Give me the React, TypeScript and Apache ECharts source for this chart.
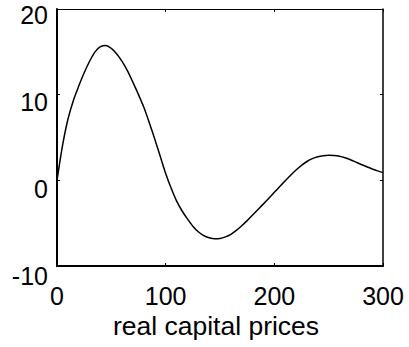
import React, { useEffect, useRef } from "react";
import * as echarts from "echarts";

const xValues = [0, 5, 10, 15, 20, 25, 30, 35, 40, 45, 50, 55, 60, 65, 70, 75, 80, 85, 90, 95, 100, 105, 110, 115, 120, 125, 130, 135, 140, 145, 150, 155, 160, 165, 170, 175, 180, 185, 190, 195, 200, 205, 210, 215, 220, 225, 230, 235, 240, 245, 250, 255, 260, 265, 270, 275, 280, 285, 290, 295, 300];
const yValues = [0, 4.0, 7.1, 9.3, 11.0, 12.55, 13.9, 15.0, 15.6, 15.75, 15.4, 14.75, 13.85, 12.75, 11.4, 10.0, 8.5, 6.7, 4.8, 2.8, 0.8, -0.9, -2.4, -3.55, -4.5, -5.35, -6.0, -6.45, -6.7, -6.82, -6.78, -6.6, -6.3, -5.85, -5.3, -4.7, -4.05, -3.4, -2.75, -2.08, -1.4, -0.72, -0.05, 0.6, 1.2, 1.75, 2.2, 2.53, 2.75, 2.88, 2.93, 2.9, 2.8, 2.63, 2.4, 2.13, 1.85, 1.58, 1.33, 1.1, 0.9];
const xTicks = [0, 100, 200, 300];
const yTicks = [-10, 0, 10, 20];
const xTitle = "real capital prices";

export default function App() {
  const ref = useRef<HTMLDivElement>(null);
  useEffect(() => {
    if (!ref.current) return;
    const chart = echarts.init(ref.current, null, { renderer: "svg" });
    const font = "Liberation Sans, Arial, sans-serif";
    const tick = { show: true, inside: true, length: 3, lineStyle: { color: "#000", width: 1 } };
    const yRich: Record<string, any> = {};
    const yPads = [19.4, 17.2, 15, 12.6];
    yTicks.forEach((v, i) => {
      yRich["t" + i] = { fontSize: 25, fontFamily: font, color: "#000", padding: [yPads[i], 0, 0, 0] };
    });
    chart.setOption({
      animation: false,
      backgroundColor: "#fff",
      grid: { left: 57, right: 26, top: 9, bottom: 81, containLabel: false },
      xAxis: [
        {
          type: "value",
          position: "bottom",
          min: xTicks[0],
          max: xTicks[xTicks.length - 1],
          interval: 100,
          axisLine: { show: true, onZero: false, lineStyle: { color: "#000", width: 2 } },
          axisTick: tick,
          splitLine: { show: false },
          axisLabel: { show: true, margin: 17, color: "#000", fontSize: 25, fontFamily: font, showMinLabel: true, showMaxLabel: true },
          name: xTitle,
          nameLocation: "middle",
          nameGap: 45,
          nameTextStyle: { color: "#000", fontSize: 26.5, fontFamily: font, padding: [0, 8, 0, 0] },
        },
        {
          type: "value",
          position: "top",
          min: xTicks[0],
          max: xTicks[xTicks.length - 1],
          interval: 100,
          axisLine: { show: true, onZero: false, lineStyle: { color: "#000", width: 1 } },
          axisTick: tick,
          splitLine: { show: false },
          axisLabel: { show: false },
        },
      ],
      yAxis: [
        {
          type: "value",
          position: "left",
          min: yTicks[0],
          max: yTicks[yTicks.length - 1],
          interval: 10,
          axisLine: { show: true, onZero: false, lineStyle: { color: "#000", width: 2 } },
          axisTick: tick,
          splitLine: { show: false },
          axisLabel: {
            show: true,
            margin: 9,
            color: "#000",
            fontSize: 25,
            fontFamily: font,
            showMinLabel: true,
            showMaxLabel: true,
            formatter: (v: number) => {
              const i = yTicks.indexOf(v);
              return i >= 0 ? "{t" + i + "|" + v + "}" : String(v);
            },
            rich: yRich,
          },
        },
        {
          type: "value",
          position: "right",
          min: yTicks[0],
          max: yTicks[yTicks.length - 1],
          interval: 10,
          axisLine: { show: true, onZero: false, lineStyle: { color: "#000", width: 1.5 } },
          axisTick: tick,
          splitLine: { show: false },
          axisLabel: { show: false },
        },
      ],
      series: [
        {
          type: "line",
          xAxisIndex: 0,
          yAxisIndex: 0,
          data: xValues.map((x, i) => [x, yValues[i]]),
          smooth: 0.3,
          showSymbol: false,
          lineStyle: { color: "#000", width: 1.5 },
        },
      ],
    });
    return () => chart.dispose();
  }, []);
  return (
    <div
      ref={ref}
      style={{ position: "fixed", left: 0, top: 0, width: 409, height: 347, background: "#fff" }}
    />
  );
}
